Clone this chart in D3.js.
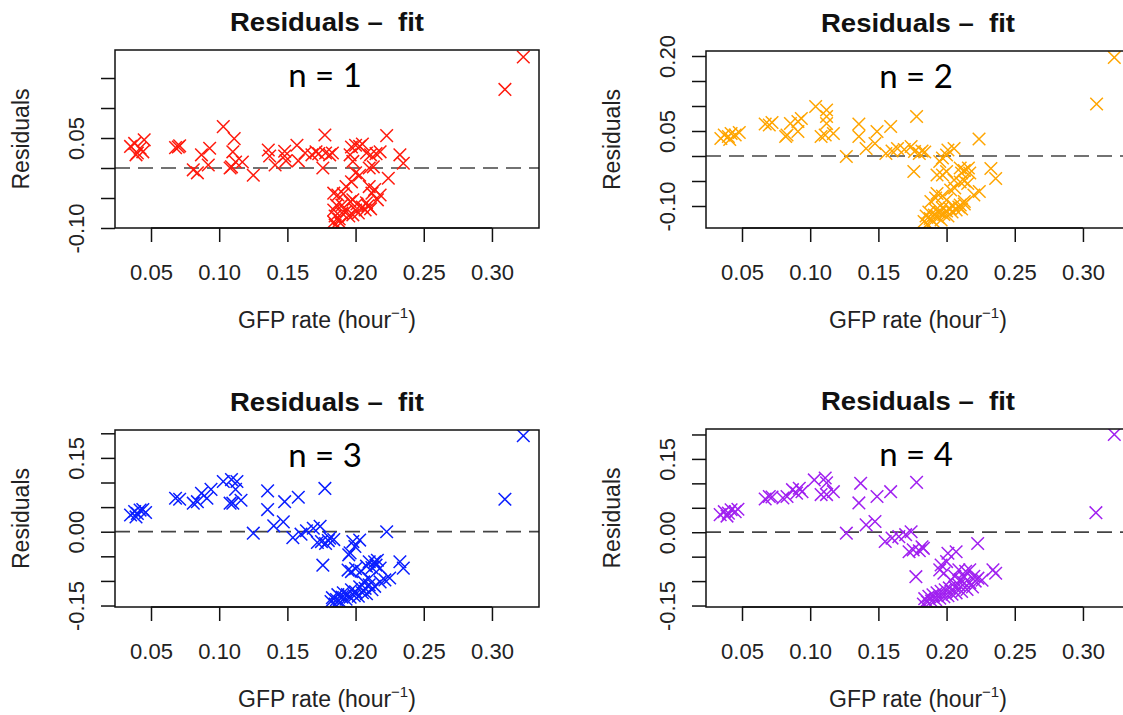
<!DOCTYPE html>
<html>
<head>
<meta charset="utf-8">
<script src="https://cdn.jsdelivr.net/npm/d3@7"></script>
<style>
  body { margin: 0; background: #fff; }
  svg text { font-family: "Liberation Sans", Arial, sans-serif; fill: #222; }
</style>
</head>
<body>
<svg id="chart" width="1123" height="715"></svg>
<script>
// GFP rate (hour^-1) and residuals
const rate1 = [0.035,0.038,0.039,0.040,0.042,0.044,0.045,0.068,0.070,0.071,0.081,0.084,0.087,0.092,0.093,0.103,0.108,0.109,0.110,0.111,0.112,0.117,0.125,0.136,0.137,0.141,0.148,0.148,0.149,0.157,0.158,0.163,0.168,0.171,0.173,0.176,0.1775,0.178,0.181,0.183,0.197,0.200,0.203,0.205,0.196,0.198,0.208,0.211,0.215,0.218,0.2228,0.2325,0.235,0.210,0.213,0.224,0.200,0.203,0.197,0.193,0.184,0.187,0.191,0.210,0.214,0.212,0.218,0.216,0.198,0.201,0.205,0.200,0.207,0.196,0.190,0.186,0.184,0.185,0.188,0.184,0.190,0.193,0.209,0.211,0.208,0.185,0.189,0.195,0.198,0.202,0.3095,0.323];
const resid1 = [0.036,0.041,0.022,0.025,0.033,0.027,0.047,0.034,0.035,0.037,-0.003,-0.008,0.022,0.005,0.033,0.069,0.000,0.002,0.027,0.049,0.010,0.010,-0.012,0.030,0.020,0.005,0.028,0.020,0.012,0.038,0.012,0.025,0.022,0.027,0.024,0.000,0.055,0.025,0.022,0.025,0.035,0.038,0.036,0.040,0.022,0.011,0.025,0.022,0.024,0.027,0.054,0.022,0.008,0.000,0.002,-0.017,-0.008,-0.012,-0.023,-0.031,-0.042,-0.045,-0.043,-0.031,-0.036,-0.042,-0.045,-0.053,-0.053,-0.060,-0.065,-0.070,-0.070,-0.056,-0.062,-0.062,-0.070,-0.080,-0.085,-0.090,-0.075,-0.072,-0.063,-0.068,-0.058,-0.095,-0.092,-0.080,-0.078,-0.075,0.131,0.185];

const rate2 = [0.0345,0.037,0.040,0.042,0.045,0.048,0.041,0.067,0.070,0.072,0.082,0.083,0.0855,0.091,0.0935,0.091,0.104,0.112,0.112,0.112,0.108,0.111,0.117,0.1265,0.1357,0.1357,0.141,0.1475,0.149,0.1555,0.159,0.160,0.164,0.169,0.174,0.1765,0.178,0.176,0.180,0.182,0.184,0.2238,0.201,0.2055,0.195,0.197,0.200,0.193,0.197,0.200,0.210,0.213,0.217,0.211,0.216,0.2325,0.236,0.2055,0.210,0.213,0.2155,0.203,0.206,0.224,0.220,0.193,0.197,0.200,0.1885,0.192,0.213,0.210,0.1835,0.185,0.186,0.187,0.188,0.190,0.191,0.192,0.194,0.195,0.196,0.197,0.198,0.200,0.201,0.202,0.204,0.205,0.207,0.209,0.211,0.213,0.310,0.323];
const resid2 = [0.035,0.042,0.039,0.045,0.042,0.047,0.033,0.064,0.062,0.067,0.039,0.042,0.065,0.049,0.075,0.069,0.099,0.092,0.079,0.065,0.039,0.042,0.045,-0.001,0.064,0.039,0.015,0.025,0.049,0.005,0.059,0.010,0.015,0.013,0.019,0.009,0.079,-0.031,0.005,0.010,0.008,0.034,0.012,0.015,-0.011,-0.004,0.002,-0.038,-0.038,-0.031,-0.024,-0.029,-0.034,-0.034,-0.024,-0.025,-0.045,-0.048,-0.052,-0.050,-0.055,-0.068,-0.064,-0.071,-0.078,-0.075,-0.080,-0.088,-0.091,-0.084,-0.091,-0.098,-0.131,-0.120,-0.136,-0.112,-0.125,-0.130,-0.118,-0.108,-0.123,-0.113,-0.128,-0.104,-0.117,-0.110,-0.120,-0.104,-0.112,-0.100,-0.108,-0.102,-0.106,-0.096,0.104,0.197];

const rate3 = [0.035,0.038,0.040,0.042,0.044,0.046,0.039,0.068,0.071,0.081,0.084,0.087,0.091,0.094,0.103,0.109,0.113,0.112,0.108,0.110,0.116,0.125,0.1355,0.1355,0.140,0.147,0.148,0.154,0.158,0.160,0.164,0.169,0.174,0.172,0.175,0.1775,0.176,0.181,0.184,0.178,0.180,0.195,0.196,0.198,0.203,0.1995,0.2228,0.1945,0.197,0.200,0.204,0.210,0.214,0.216,0.208,0.212,0.215,0.218,0.2325,0.235,0.225,0.2215,0.218,0.182,0.183,0.185,0.186,0.187,0.189,0.190,0.191,0.193,0.194,0.196,0.197,0.199,0.200,0.202,0.203,0.205,0.207,0.208,0.210,0.212,0.214,0.210,0.206,0.3095,0.323];
const resid3 = [0.034,0.041,0.037,0.044,0.045,0.039,0.030,0.068,0.066,0.058,0.061,0.078,0.068,0.086,0.102,0.106,0.102,0.086,0.058,0.058,0.064,-0.003,0.083,0.045,0.012,0.020,0.061,-0.012,0.070,-0.005,0.002,0.007,0.011,-0.022,-0.020,0.088,-0.068,-0.013,-0.016,-0.024,-0.018,-0.047,-0.043,-0.020,-0.017,-0.030,0.000,-0.078,-0.081,-0.075,-0.080,-0.061,-0.061,-0.058,-0.070,-0.073,-0.068,-0.074,-0.061,-0.074,-0.094,-0.098,-0.102,-0.142,-0.134,-0.147,-0.138,-0.128,-0.143,-0.133,-0.124,-0.137,-0.128,-0.133,-0.118,-0.130,-0.122,-0.131,-0.112,-0.124,-0.115,-0.126,-0.108,-0.118,-0.111,-0.095,-0.102,0.066,0.195];

const rate4 = [0.034,0.037,0.040,0.042,0.045,0.047,0.039,0.067,0.070,0.072,0.080,0.083,0.087,0.090,0.092,0.094,0.103,0.111,0.112,0.108,0.112,0.117,0.1265,0.137,0.1357,0.141,0.149,0.1475,0.159,0.178,0.155,0.160,0.165,0.170,0.174,0.1725,0.1755,0.182,0.183,0.180,0.1775,0.2228,0.201,0.207,0.196,0.200,0.195,0.198,0.234,0.236,0.209,0.214,0.217,0.206,0.213,0.220,0.223,0.226,0.203,0.210,0.183,0.184,0.186,0.187,0.189,0.190,0.192,0.193,0.195,0.196,0.198,0.199,0.201,0.202,0.204,0.206,0.207,0.209,0.211,0.213,0.215,0.217,0.219,0.221,0.3095,0.323];
const resid4 = [0.036,0.042,0.039,0.046,0.042,0.047,0.033,0.068,0.073,0.072,0.070,0.073,0.087,0.080,0.090,0.083,0.107,0.111,0.101,0.077,0.077,0.083,-0.002,0.100,0.060,0.015,0.073,0.022,0.083,0.102,-0.019,-0.012,-0.009,-0.005,0.001,-0.040,-0.036,-0.030,-0.033,-0.038,-0.091,-0.023,-0.043,-0.040,-0.067,-0.060,-0.077,-0.084,-0.077,-0.084,-0.077,-0.080,-0.077,-0.090,-0.092,-0.090,-0.094,-0.098,-0.098,-0.097,-0.147,-0.136,-0.143,-0.131,-0.141,-0.128,-0.138,-0.124,-0.135,-0.121,-0.132,-0.118,-0.130,-0.114,-0.127,-0.112,-0.124,-0.108,-0.121,-0.104,-0.117,-0.103,-0.112,-0.100,0.040,0.200];

const xTicks = [0.05, 0.10, 0.15, 0.20, 0.25, 0.30];
const yTicksTop1 = [-0.10, -0.05, 0.00, 0.05, 0.10, 0.15];
const yLabelsTop1 = [-0.10, 0.05];
const yTicksTop2 = [-0.10, -0.05, 0.00, 0.05, 0.10, 0.15, 0.20];
const yLabelsTop2 = [-0.10, 0.05, 0.20];
const yTicksBottom = [-0.15, -0.10, -0.05, 0.00, 0.05, 0.10, 0.15, 0.20];
const yLabelsBottom = [-0.15, 0.00, 0.15];
const xDomain = [0.0236, 0.3345];

const panels = [
  { rate: rate1, resid: resid1, color: "#ff1a0d", label: "n = 1", x0: 115, top: 50, bottom: 228,
    yDomain: [-0.10, 0.1967], yTicks: yTicksTop1, yLabels: yLabelsTop1 },
  { rate: rate2, resid: resid2, color: "#ffa500", label: "n = 2", x0: 706, top: 51, bottom: 228,
    yDomain: [-0.144, 0.21], yTicks: yTicksTop2, yLabels: yLabelsTop2 },
  { rate: rate3, resid: resid3, color: "#0a1eff", label: "n = 3", x0: 115, top: 430, bottom: 607,
    yDomain: [-0.153, 0.2067], yTicks: yTicksBottom, yLabels: yLabelsBottom },
  { rate: rate4, resid: resid4, color: "#a020f0", label: "n = 4", x0: 706, top: 429, bottom: 607,
    yDomain: [-0.153, 0.2112], yTicks: yTicksBottom, yLabels: yLabelsBottom }
];

const svg = d3.select("#chart");
const boxW = 424;
const tick = 14;

panels.forEach((p, i) => {
  const x = d3.scaleLinear().domain(xDomain).range([p.x0, p.x0 + boxW]);
  const y = d3.scaleLinear().domain(p.yDomain).range([p.bottom, p.top]);
  const cx = p.x0 + boxW / 2;

  // clip for the points
  svg.append("clipPath").attr("id", "clip" + i)
    .append("rect")
    .attr("x", p.x0).attr("y", p.top)
    .attr("width", boxW).attr("height", p.bottom - p.top);

  // zero line
  svg.append("line")
    .attr("x1", p.x0).attr("x2", p.x0 + boxW)
    .attr("y1", y(0)).attr("y2", y(0))
    .attr("stroke", "#444").attr("stroke-width", 1.7)
    .attr("stroke-dasharray", "15,8");

  // points (pch = 4)
  const pts = d3.range(p.rate.length);
  svg.append("g").attr("clip-path", `url(#clip${i})`)
    .selectAll("path")
    .data(pts)
    .enter()
    .append("path")
    .attr("transform", d => `translate(${x(p.rate[d])},${y(p.resid[d])})`)
    .attr("d", "M-6.3,-6.3L6.3,6.3M-6.3,6.3L6.3,-6.3")
    .attr("stroke", p.color)
    .attr("stroke-width", 1.5)
    .attr("fill", "none");

  // box
  svg.append("rect")
    .attr("x", p.x0).attr("y", p.top)
    .attr("width", boxW).attr("height", p.bottom - p.top)
    .attr("fill", "none").attr("stroke", "#111").attr("stroke-width", 1.5);

  // x axis
  const xa = svg.append("g")
    .attr("transform", `translate(0,${p.bottom})`)
    .call(d3.axisBottom(x).tickValues(xTicks).tickSize(tick).tickSizeOuter(0)
      .tickFormat(d3.format(".2f")));
  xa.select(".domain").attr("d", `M${x(0.05)},0H${x(0.30)}`).attr("stroke", "#111").attr("stroke-width", 1.5);
  xa.selectAll(".tick line").attr("stroke", "#111").attr("stroke-width", 1.5);
  xa.selectAll(".tick text")
    .attr("y", 52).attr("dy", null)
    .style("font-size", "22px").style("fill", "#222");

  // y axis
  const ya = svg.append("g")
    .attr("transform", `translate(${p.x0},0)`)
    .call(d3.axisLeft(y).tickValues(p.yTicks).tickSize(tick).tickSizeOuter(0)
      .tickFormat(d => p.yLabels.some(v => Math.abs(v - d) < 1e-9) ? d3.format(".2f")(d).replace("\u2212", "-") : ""));
  ya.select(".domain").remove();
  ya.selectAll(".tick line").attr("stroke", "#111").attr("stroke-width", 1.5);
  ya.selectAll(".tick text")
    .attr("transform", "rotate(-90)")
    .attr("x", 0).attr("y", -31).attr("dy", null)
    .attr("text-anchor", "middle")
    .style("font-size", "22px").style("fill", "#222");

  // titles
  svg.append("text")
    .attr("transform", `translate(${cx},${p.top - 19}) scale(1.1,1)`)
    .attr("text-anchor", "middle")
    .style("white-space", "pre")
    .style("font-size", "25px").style("font-weight", "bold").style("fill", "#111")
    .text("Residuals \u2013  fit");

  svg.append("text")
    .attr("x", cx - 2).attr("y", p.top + 37)
    .attr("text-anchor", "middle")
    .style("font-family", "Lato, 'Noto Sans', sans-serif")
    .style("font-size", "33px").style("fill", "#000")
    .text(p.label);

  const xt = svg.append("text")
    .attr("x", cx).attr("y", p.bottom + 100)
    .attr("text-anchor", "middle")
    .style("font-size", "23px").style("fill", "#222");
  xt.append("tspan").text("GFP rate (hour");
  xt.append("tspan").attr("dy", -10).style("font-size", "15px").text("\u22121");
  xt.append("tspan").attr("dy", 10).text(")");

  svg.append("text")
    .attr("transform", `translate(${p.x0 - 86},${(p.top + p.bottom) / 2}) rotate(-90)`)
    .attr("text-anchor", "middle")
    .style("font-size", "23px").style("fill", "#222")
    .text("Residuals");
});
</script>
</body>
</html>
